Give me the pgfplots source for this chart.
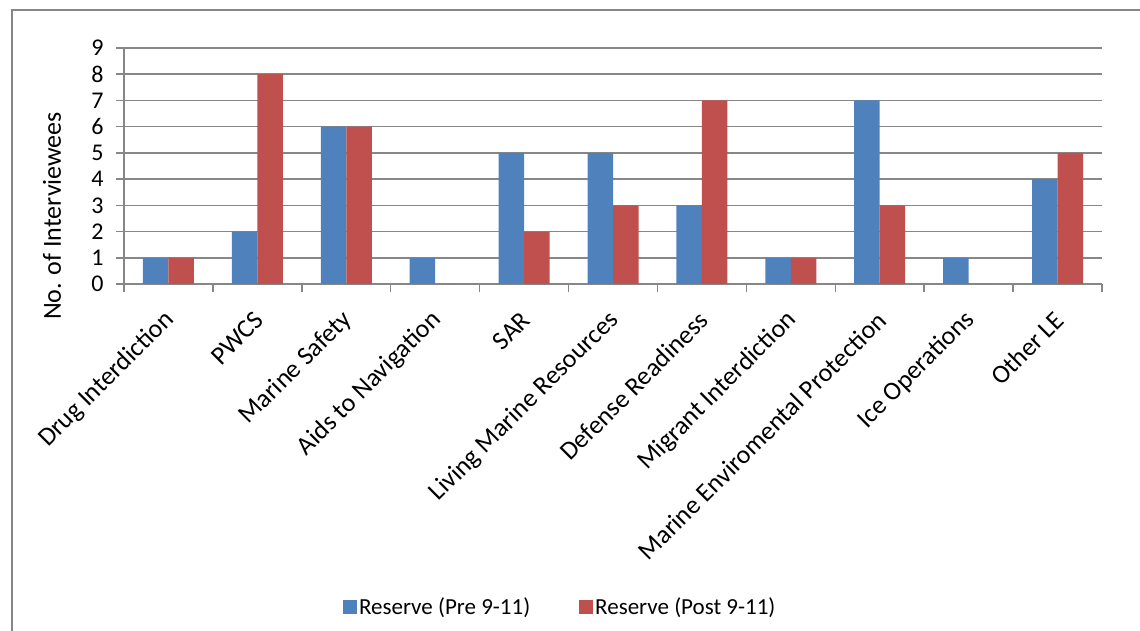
\documentclass[border=0pt]{standalone}
\usepackage{pgfplots}
\pgfplotsset{compat=1.18}
\usepackage{fontspec}
\setmainfont{Carlito}
\definecolor{cblue}{HTML}{4F81BD}
\definecolor{cred}{HTML}{C0504D}
\definecolor{gline}{HTML}{878787}
\begin{document}
\begin{tikzpicture}
\useasboundingbox (0pt,0pt) rectangle (1140pt,631pt);
\begin{scope}
\clip (0pt,0pt) rectangle (1140pt,631pt);
\draw[gline, line width=1.5pt] (12pt,-20pt) -- (12pt,621pt) -- (1160pt,621pt);
\end{scope}
\node[rotate=90, font=\fontsize{26}{30}\selectfont] at (52pt,415pt) {No. of Interviewees};
\begin{axis}[
  at={(124pt,347pt)}, anchor=south west,
  scale only axis, width=978pt, height=236pt,
  xmin=-0.5, xmax=10.5, ymin=0, ymax=9,
  ybar, bar width=25.5pt,
  axis x line*=bottom, axis y line*=left,
  axis line style={gline, line width=1.5pt},
  ytick={0,...,9},
  ymajorgrids, grid style={gline, line width=1.5pt},
  tick align=outside, major tick length=8pt,
  tick style={gline, line width=1.5pt},
  xtick={-0.5,0.5,...,10.5}, xticklabels={},
  extra x ticks={0,1,2,3,4,5,6,7,8,9,10},
  extra x tick labels={Drug Interdiction, PWCS, Marine Safety, Aids to Navigation, SAR, Living Marine Resources, Defense Readiness, Migrant Interdiction, Marine Enviromental Protection, Ice Operations, Other LE},
  extra x tick style={major tick length=0pt, grid=none},
  xticklabel style={rotate=45, anchor=east, font=\fontsize{26}{30}\selectfont, xshift=-18pt, yshift=-24pt},
  yticklabel style={font=\fontsize{24}{28}\selectfont, xshift=-9pt},
  /pgf/number format/assume math mode=true,
  legend style={at={(0.446,-1.369)}, anchor=center, draw=none, legend columns=2, font=\fontsize{23}{27}\selectfont, /tikz/every even column/.append style={column sep=47pt}},
  legend image code/.code={\fill[#1] (-4pt,-7pt) rectangle (10pt,7pt);},
]
\addplot[fill=cblue, draw=none, bar shift=-12.75pt] coordinates {(0,1)(1,2)(2,6)(3,1)(4,5)(5,5)(6,3)(7,1)(8,7)(9,1)(10,4)};
\addplot[fill=cred, draw=none, bar shift=12.75pt] coordinates {(0,1)(1,8)(2,6)(3,0)(4,2)(5,3)(6,7)(7,1)(8,3)(9,0)(10,5)};
\legend{Reserve (Pre 9-11), Reserve (Post 9-11)}
\end{axis}
\end{tikzpicture}
\end{document}
